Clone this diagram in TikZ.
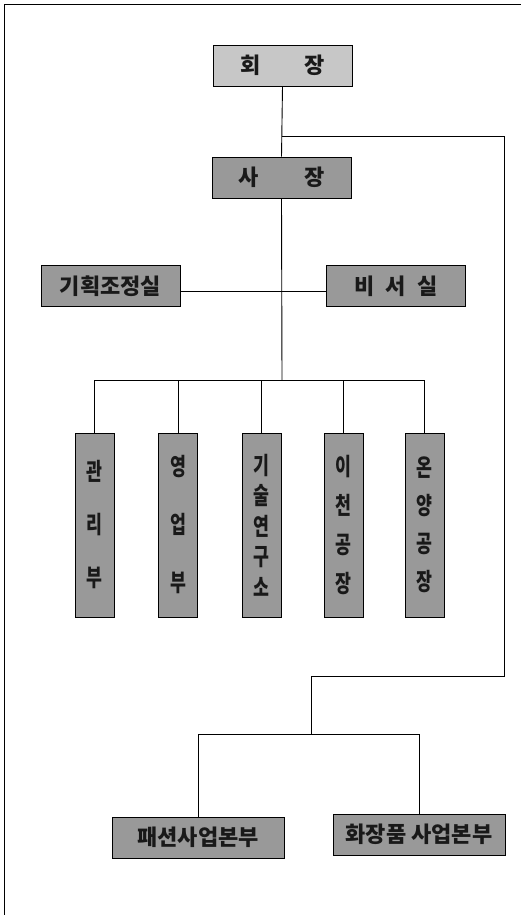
\documentclass[tikz,border=0pt]{standalone}
\usepackage{fontspec}
\newfontfamily\kr{Noto Sans CJK KR}
\newfontfamily\krv[FakeStretch=0.72]{Noto Sans CJK KR}
\definecolor{lightbox}{gray}{0.78}
\definecolor{darkbox}{gray}{0.60}
\begin{document}
\begin{tikzpicture}[x=1pt,y=-1pt,
  box/.style={draw=black,line width=0.9pt,fill=darkbox,inner sep=0pt,
    font={\kr\bfseries\fontsize{22}{24}\selectfont},text=black!90},
  hbox/.style={box,minimum width=139,minimum height=41},
  wbox/.style={box,minimum width=172,minimum height=41},
  vbox/.style={box,minimum width=39,minimum height=184,align=center},
  conn/.style={line width=0.9pt,black}]
\useasboundingbox (0,0) rectangle (521,915);
\fill[white] (0,0) rectangle (521,915);
% frame
\draw[conn] (4,915) -- (4,4) -- (521,4);
% nodes
\node[hbox,fill=lightbox] (hoe) at (282.5,65.5) {회\hspace{44pt}장};
\node[hbox] (sa) at (281.5,177.5) {사\hspace{46pt}장};
\node[hbox] (gi) at (110.5,286) {기획조정실};
\node[hbox] (bi) at (396,286) {비\hspace{11pt}서\hspace{11pt}실};
\node[vbox,font={\krv\bfseries\fontsize{24}{53}\selectfont}] (d1) at (94.5,525) {관\\리\\부};
\node[vbox,font={\krv\bfseries\fontsize{24}{58}\selectfont}] (d2) at (178,525) {영\\업\\부};
\node[vbox,font={\krv\bfseries\fontsize{24}{30.5}\selectfont}] (d3) at (261.5,525) {기\\술\\연\\구\\소};
\node[vbox,font={\krv\bfseries\fontsize{24}{39}\selectfont}] (d4) at (343.5,525) {이\\천\\공\\장};
\node[vbox,font={\krv\bfseries\fontsize{24}{38}\selectfont}] (d5) at (424.5,525) {온\\양\\공\\장};
\node[wbox] (pa) at (198,837.5) {패션사업본부};
\node[wbox] (hw) at (419,834.5) {화장품 사업본부};
% junctions
\coordinate (j1) at (282,136);
\coordinate (rt) at (504,136);
\coordinate (rb) at (504,676);
\coordinate (mb) at (311,676);
\coordinate (bb) at (311,734);
\coordinate (bus) at (282,380);
% connectors
\draw[conn] (hoe.south) -- (sa.north);
\draw[conn] (sa.south) -- (bus);
\draw[conn] ([yshift=-5pt]gi.east) -- ([yshift=-5pt]bi.west);
\draw[conn] (j1) -- (rt) -- (rb) -- (mb) -- (bb);
\foreach \d in {d1,d2,d3,d4,d5} \draw[conn] (bus) -| (\d.north);
\draw[conn] (bb) -| (pa.north);
\draw[conn] (bb) -| (hw.north);
\end{tikzpicture}
\end{document}
